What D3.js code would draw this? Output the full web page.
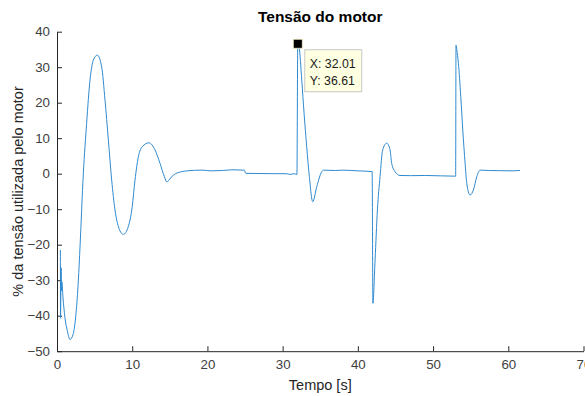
<!DOCTYPE html>
<html>
<head>
<meta charset="utf-8">
<script src="https://cdn.jsdelivr.net/npm/d3@7"></script>
<style>
body { margin: 0; background: #fff; overflow: hidden; }
text { font-family: Arial, "Liberation Sans", Helvetica, sans-serif; }
</style>
</head>
<body>
<script>
(function(){

//time samples [s]
var tempo = [0.45, 0.47, 0.55, 0.6, 0.65, 0.8, 1.06, 1.37, 1.73, 2.17, 2.53, 2.84, 3.06, 3.5, 3.94, 4.39, 4.83, 5.36, 5.94, 6.38, 6.83, 7.27, 7.71, 8.24, 8.82, 9.48, 10.0, 10.37, 10.82, 11.35, 12.23, 13.03, 13.7, 14.27, 14.6, 15.0, 15.47, 16.58, 17.25, 19.3, 20.5, 22, 23.4, 24.9, 25.1, 27, 29, 30.5, 31.0, 31.5, 31.9, 32.01, 32.2, 32.54, 32.85, 33.2, 33.55, 34.0, 34.53, 35.2, 35.42, 37, 38, 40, 41.9, 42.0, 42.29, 42.6, 42.95, 43.3, 43.84, 44.28, 44.5, 44.95, 45.6, 47, 49, 51, 53.0, 53.05, 53.15, 53.37, 53.68, 53.95, 54.26, 54.48, 54.92, 55.36, 55.81, 56.25, 57.5, 59, 60.5, 61.57];

//% of motor voltage
var tensao = [-21.5, -40.7, -26.5, -33, -30.5, -35, -40.6, -44.2, -46.7, -45, -39.3, -30, -20.6, 0, 14.2, 26.4, 32, 33.4, 30.1, 20.8, 9.5, -1.8, -10.2, -15.4, -17.1, -14.9, -9.3, -1.8, 4.8, 7.6, 8.7, 6.7, 2.9, -0.8, -2.3, -1.5, -0.4, 0.56, 0.8, 1.0, 0.8, 0.9, 1.1, 1.0, 0.1, 0.05, 0.0, 0.0, -0.2, 0.0, -0.2, 36.61, 35.5, 26.4, 17, 7.6, -0.8, -7.9, -3.7, 0.56, 1.0, 0.9, 1.0, 0.8, 0.6, -36.5, -24.3, -10.2, -0.8, 6.7, 8.6, 6.7, 2.9, 0.56, -0.5, -0.55, -0.5, -0.6, -0.7, 36.2, 35, 31.1, 21.7, 12.3, 2.9, -2.7, -6.0, -4.6, -0.85, 1.0, 0.9, 0.85, 0.8, 0.9];

var xTicks = [0, 10, 20, 30, 40, 50, 60, 70];
var yTicks = [-50, -40, -30, -20, -10, 0, 10, 20, 30, 40];
var dataTip = [32.01, 36.61];

var width = 585,
    height = 396,
    plotLeft = 57,
    plotRight = 583.5,
    plotTop = 31.7,
    plotBottom = 351.2;

var svg = d3.select("body")
    .append("svg")
    .attr("width", width)
    .attr("height", height);

var x = d3.scaleLinear().domain([0, 70]).range([plotLeft, plotRight]);
var y = d3.scaleLinear().domain([-50, 40]).range([plotBottom, plotTop]);

//axes, ticks pointing inward
var xAxis = svg.append("g")
    .attr("transform", "translate(0," + plotBottom + ")")
    .call(d3.axisBottom(x).tickValues(xTicks).tickSizeInner(-5).tickSizeOuter(0).tickPadding(8));

var yAxis = svg.append("g")
    .attr("transform", "translate(" + plotLeft + ",0)")
    .call(d3.axisLeft(y).tickValues(yTicks).tickSizeInner(-5).tickSizeOuter(0).tickPadding(7));

[xAxis, yAxis].forEach(function(g){
    g.select(".domain").attr("stroke", "#262626").attr("stroke-width", 1);
    g.selectAll(".tick line").attr("stroke", "#262626");
    g.selectAll(".tick text")
        .attr("fill", "#404040")
        .style("font-size", "13.3px")
        .style("font-family", "Arial, 'Liberation Sans', sans-serif");
});

//data line
var points = tempo.map(function(t, i){ return [t, tensao[i]]; });
var line = d3.line()
    .x(function(d){ return x(d[0]); })
    .y(function(d){ return y(d[1]); })
    .curve(d3.curveMonotoneX);

svg.append("path")
    .datum(points)
    .attr("fill", "none")
    .attr("stroke", "#2f8ad0")
    .attr("stroke-width", 1)
    .attr("d", line);

//title and labels
svg.append("text")
    .attr("x", (plotLeft + plotRight) / 2)
    .attr("y", 22)
    .attr("text-anchor", "middle")
    .style("font-size", "15.5px")
    .style("font-weight", "bold")
    .attr("fill", "#000")
    .text("Tensão do motor");

svg.append("text")
    .attr("x", (plotLeft + plotRight) / 2)
    .attr("y", 390)
    .attr("text-anchor", "middle")
    .style("font-size", "14.5px")
    .attr("fill", "#262626")
    .text("Tempo [s]");

svg.append("text")
    .attr("transform", "translate(23," + (plotTop + plotBottom) / 2 + ") rotate(-90)")
    .attr("text-anchor", "middle")
    .style("font-size", "14.5px")
    .attr("fill", "#262626")
    .text("% da tensão utilizada pelo motor");

//data tip
var tipX = x(dataTip[0]),
    tipY = y(dataTip[1]);

svg.append("rect")
    .attr("x", tipX - 4.5)
    .attr("y", tipY - 4.5)
    .attr("width", 9)
    .attr("height", 9)
    .attr("fill", "#000")
    .attr("stroke", "#f4f0c8")
    .attr("stroke-width", 0.8);

var tip = svg.append("g")
    .attr("transform", "translate(" + (tipX + 6.5) + "," + (tipY + 5.5) + ")");

tip.append("rect")
    .attr("x", 0.5)
    .attr("y", 0.5)
    .attr("width", 57)
    .attr("height", 42)
    .attr("fill", "#ffffe1")
    .attr("stroke", "#c8c8c8");

tip.selectAll(".tipText")
    .data(["X: " + dataTip[0].toFixed(2), "Y: " + dataTip[1].toFixed(2)])
    .enter()
    .append("text")
    .attr("class", "tipText")
    .attr("x", 5.5)
    .attr("y", function(d, i){ return 19 + i * 16.7; })
    .style("font-size", "12.3px")
    .attr("fill", "#1a1a1a")
    .text(function(d){ return d; });

})();
</script>
</body>
</html>
